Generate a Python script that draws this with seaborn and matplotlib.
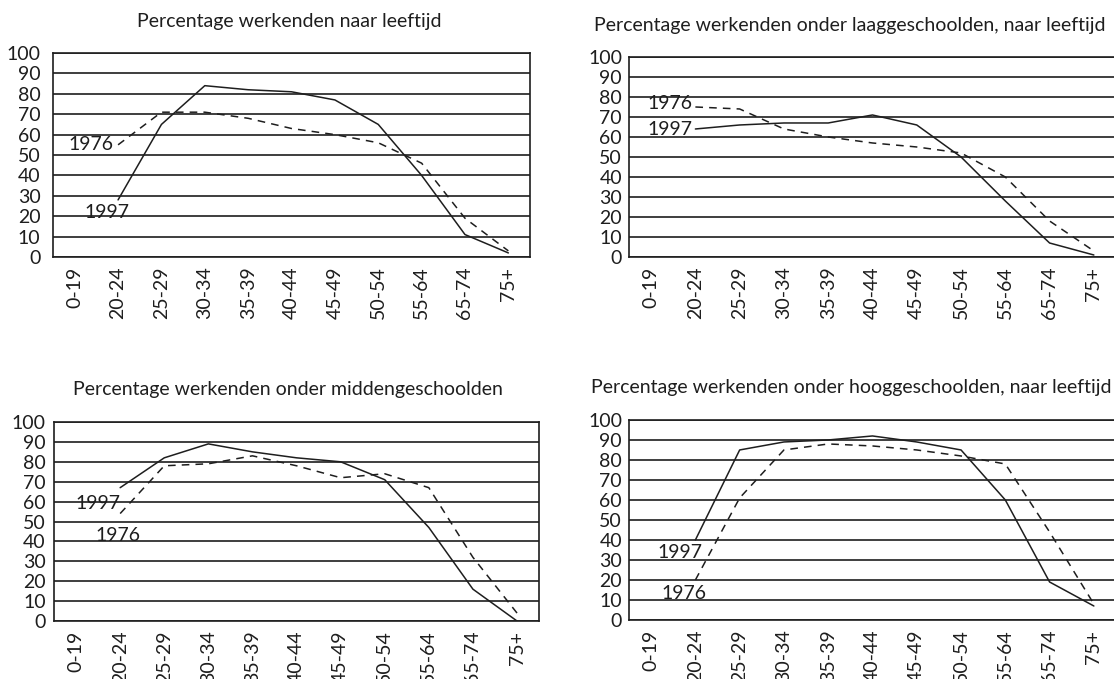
import numpy as np
import pandas as pd
import matplotlib
matplotlib.use("Agg")
import matplotlib.pyplot as plt
import seaborn as sns

# =====================================
#            DATA
# =====================================
ages = ["0-19", "20-24", "25-29", "30-34", "35-39", "40-44",
        "45-49", "50-54", "55-64", "65-74", "75+"]

# percentage working, by age group
alle_1997 = [np.nan, 28, 65, 84, 82, 81, 77, 65, 40, 11, 2]
alle_1976 = [np.nan, 55, 71, 71, 68, 63, 60, 56, 46, 19, 3]

laag_1997 = [np.nan, 64, 66, 67, 67, 71, 66, 50, 28, 7, 1]
laag_1976 = [np.nan, 75, 74, 64, 60, 57, 55, 52, 40, 18, 3]

midden_1997 = [np.nan, 67, 82, 89, 85, 82, 80, 71, 47, 16, 0]
midden_1976 = [np.nan, 54, 78, 79, 83, 78, 72, 74, 67, 32, 4]

hoog_1997 = [np.nan, 40, 85, 89, 90, 92, 89, 85, 60, 19, 7]
hoog_1976 = [np.nan, 20, 61, 85, 88, 87, 85, 82, 78, 44, 8]

titles = ["Percentage werkenden naar leeftijd",
          "Percentage werkenden onder laaggeschoolden, naar leeftijd",
          "Percentage werkenden onder middengeschoolden",
          "Percentage werkenden onder hooggeschoolden, naar leeftijd"]

# =====================================
#            STYLE
# =====================================
sns.set_style("white")
plt.rcParams['font.family'] = ['Lato', 'DejaVu Sans']
ink = "#1e1e1e"
fs = 14

fig = plt.figure(figsize=(11.14, 6.79), dpi=100)

# axes boxes (left, bottom, width, height) in figure fractions
boxes = [(0.0476, 0.6215, 0.4282, 0.3004),
         (0.5646, 0.6215, 0.4372, 0.2946),
         (0.0485, 0.0854, 0.4354, 0.2931),
         (0.5646, 0.0869, 0.4372, 0.2946)]

# title centres (x, y) in pixels
title_pos = [(289, 22), (850, 25), (288, 390), (851, 387)]

series = [(alle_1997, alle_1976), (laag_1997, laag_1976),
          (midden_1997, midden_1976), (hoog_1997, hoog_1976)]

# year labels: (x, y) in data coords for 1997 and 1976
year_labels = [((0.74, 22), (0.38, 55)),
               ((0.42, 63.5), (0.42, 76.5)),
               ((0.49, 59), (0.96, 43)),
               ((0.65, 33.5), (0.74, 13))]

# the first panel has no y ticks
y_tick_len = [0, 3, 3, 3]
y_pad = [9, 2, 3, 2]

x = np.arange(len(ages))

for i in range(4):
    ax = fig.add_axes(boxes[i])
    v97, v76 = series[i]
    df = pd.DataFrame({"x": x, "y97": v97, "y76": v76})
    sns.lineplot(data=df, x="x", y="y97", ax=ax, color=ink, lw=1.1)
    sns.lineplot(data=df, x="x", y="y76", ax=ax, color=ink, lw=1.1,
                 linestyle=(0, (5, 4)))

    ax.set_xlim(-0.5, len(ages) - 0.5)
    ax.set_ylim(0, 100)
    ax.set_yticks(range(0, 101, 10))
    ax.yaxis.grid(True, color=ink, lw=1.2)
    ax.set_axisbelow(True)

    ax.set_xticks(x)
    ax.set_xticklabels(ages, rotation=90)
    ax.set_xticks(np.arange(0.5, len(ages), 1), minor=True)
    ax.tick_params(axis="x", which="major", length=0, pad=7,
                   labelsize=fs, labelcolor=ink)
    ax.tick_params(axis="x", which="minor", length=3.5, width=1.2,
                   color=ink, direction="out")
    ax.tick_params(axis="y", length=y_tick_len[i], width=1.2, color=ink,
                   pad=y_pad[i], labelsize=fs, labelcolor=ink)
    ax.set_xlabel("")
    ax.set_ylabel("")

    for s in ax.spines.values():
        s.set_color(ink)
        s.set_linewidth(1.2)

    (x97, y97), (x76, y76) = year_labels[i]
    ax.text(x97, y97, "1997", ha="center", va="center", fontsize=fs, color=ink)
    ax.text(x76, y76, "1976", ha="center", va="center", fontsize=fs, color=ink)

    tx, ty = title_pos[i]
    fig.text(tx / 1114, 1 - ty / 679, titles[i], ha="center", va="center",
             fontsize=fs, color=ink)

fig.savefig("out.png", dpi=100)
